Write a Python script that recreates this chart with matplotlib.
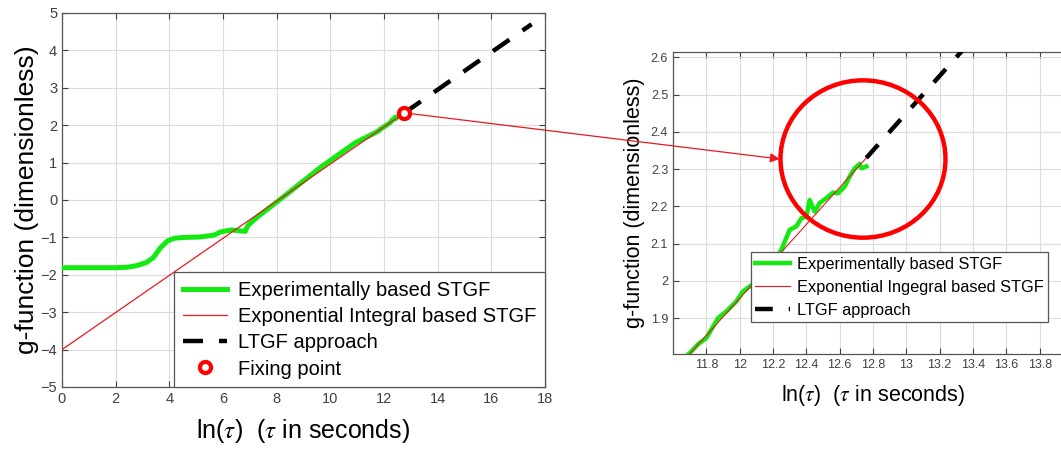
import numpy as np
import matplotlib
matplotlib.use("Agg")
import matplotlib.pyplot as plt
from matplotlib.patches import Ellipse, ConnectionPatch

plt.rcParams['font.family'] = ['Liberation Sans', 'DejaVu Sans']
plt.rcParams['mathtext.fontset'] = 'stix'

# ---- Data ----
exp_x = [0.0, 1.0, 2.0, 2.4, 2.75, 3.15, 3.4, 3.68, 3.94, 4.2, 4.6, 5.13, 5.66, 5.93,
         6.32, 6.72, 6.83, 6.92, 7.25, 8.3, 9.63, 10.95, 11.70, 11.75, 11.80, 11.87,
         11.92, 11.98, 12.02, 12.06, 12.10, 12.15, 12.20, 12.25, 12.30, 12.34, 12.37,
         12.40, 12.42, 12.45, 12.48, 12.52, 12.56, 12.59, 12.63, 12.66, 12.69, 12.72,
         12.73, 12.76]
exp_y = [-1.81, -1.81, -1.81, -1.80, -1.76, -1.67, -1.54, -1.27, -1.09, -1.02, -1.0,
         -0.99, -0.94, -0.85, -0.80, -0.83, -0.84, -0.69, -0.47, 0.11, 0.87, 1.54,
         1.806, 1.83, 1.847, 1.90, 1.918, 1.945, 1.972, 1.985, 2.00, 2.03, 2.05, 2.083,
         2.137, 2.146, 2.168, 2.173, 2.217, 2.186, 2.209, 2.222, 2.237, 2.235, 2.253,
         2.28, 2.302, 2.314, 2.302, 2.307]

ei_x = [0.0, 12.76]
ei_y = [-4.0, 2.33]

ltgf_x = [12.76, 17.5]
ltgf_y = [2.33, 4.7]

fix_x = [12.76]
fix_y = [2.33]

green = '#12ea12'
red = '#e8191f'
gray = '#404040'

fig = plt.figure(figsize=(10.61, 4.51), dpi=100)
W, H = 1061, 451

def style(ax, tsize):
    ax.grid(True, color='#dcdcdc', lw=0.8)
    ax.set_axisbelow(True)
    ax.tick_params(direction='in', top=True, right=True, labelsize=tsize,
                   colors=gray, length=4)
    for s in ax.spines.values():
        s.set_color('#555555')
        s.set_linewidth(0.9)

# ---- Left panel ----
ax1 = fig.add_axes([62 / W, 1 - 387 / H, 483 / W, 374 / H])
ax1.plot(exp_x, exp_y, color=green, lw=3.6, label='Experimentally based STGF', zorder=3)
ax1.plot(ei_x, ei_y, color=red, lw=0.9, label='Exponential Integral based STGF', zorder=4)
ax1.plot(ltgf_x, ltgf_y, color='black', lw=3.2, dashes=(4.5, 3.6),
         label='LTGF approach', zorder=4)
ax1.plot(fix_x, fix_y, 'o', ms=8, mfc='white', mec='#ff0000', mew=3,
         label='Fixing point', zorder=5)
ax1.set_xlim(0, 18)
ax1.set_ylim(-5, 5)
ax1.set_xticks(np.arange(0, 19, 2))
ax1.set_yticks(np.arange(-5, 6, 1))
style(ax1, 10.5)
ax1.set_xlabel(r'ln($\tau$)  ($\tau$ in seconds)', fontsize=18, labelpad=8)
ax1.set_ylabel('g-function (dimensionless)', fontsize=19, labelpad=1)
leg1 = ax1.legend(loc='lower right', bbox_to_anchor=(1, 0), borderaxespad=0,
                  fontsize=14.5, fancybox=False, framealpha=1, edgecolor='#555555',
                  handlelength=2.2, labelspacing=0.36, borderpad=0.42, handletextpad=0.55)
leg1.get_frame().set_linewidth(0.9)

# ---- Right panel (zoom) ----
ax2 = fig.add_axes([673 / W, 1 - 354 / H, 400 / W, 302 / H])
ax2.plot(exp_x, exp_y, color=green, lw=3.2, label='Experimentally based STGF', zorder=3)
ax2.plot(ei_x, ei_y, color=red, lw=0.8, label='Exponential Ingegral based STGF', zorder=4)
ax2.plot(ltgf_x, ltgf_y, color='black', lw=3.2, dashes=(4.0, 3.6),
         label='LTGF approach', zorder=4)
ax2.set_xlim(11.6, 14.0)
ax2.set_ylim(1.804, 2.614)
ax2.set_xticks(np.round(np.arange(11.8, 13.85, 0.2), 1))
ax2.set_xticklabels(['11.8', '12', '12.2', '12.4', '12.6', '12.8', '13', '13.2',
                     '13.4', '13.6', '13.8'])
ax2.set_yticks(np.round(np.arange(1.9, 2.65, 0.1), 1))
ax2.set_yticklabels(['1.9', '2', '2.1', '2.2', '2.3', '2.4', '2.5', '2.6'])
style(ax2, 9)
ax2.set_xlabel(r'ln($\tau$)  ($\tau$ in seconds)', fontsize=15.5, labelpad=9)
ax2.set_ylabel('g-function (dimensionless)', fontsize=15.5, labelpad=4)
leg2 = ax2.legend(loc='lower left', bbox_to_anchor=(751 / W, 1 - 322 / H),
                  bbox_transform=fig.transFigure, borderaxespad=0, fontsize=11.8,
                  fancybox=False, framealpha=1, edgecolor='#555555',
                  handlelength=2.1, labelspacing=0.5, borderpad=0.25, handletextpad=0.45)
leg2.get_frame().set_linewidth(0.9)

ring = Ellipse((12.74, 2.327), 0.99, 0.422, fill=False, ec='#ff0000', lw=3.2, zorder=6)
ax2.add_patch(ring)

# arrow from the fixing point to the zoomed view
arrow = ConnectionPatch(xyA=(fix_x[0], fix_y[0]), coordsA=ax1.transData,
                        xyB=(12.24, 2.327), coordsB=ax2.transData,
                        arrowstyle='-|>', mutation_scale=14, color=red, lw=0.9,
                        shrinkA=5, shrinkB=0, zorder=10)
fig.add_artist(arrow)

fig.savefig('out.png', dpi=100)
